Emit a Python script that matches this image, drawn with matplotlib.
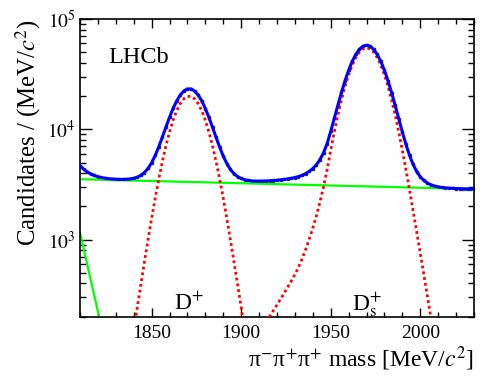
import numpy as np
import matplotlib
matplotlib.use("Agg")
import matplotlib.pyplot as plt
from matplotlib.ticker import MultipleLocator, LogLocator, NullFormatter, FixedLocator, FixedFormatter

plt.rcParams['font.family'] = ['Liberation Serif', 'DejaVu Serif']
plt.rcParams['mathtext.fontset'] = 'stix'

# fit grid (MeV/c^2), total fit / data values
mass = np.arange(1810, 2031, 2)
total = [4687, 4358, 4118, 3944, 3817, 3724, 3655, 3604, 3569, 3542,
         3524, 3513, 3511, 3521, 3549, 3597, 3683, 3824, 4053, 4413,
         4972, 5788, 6946, 8506, 10490, 12854, 15465, 18099, 20469, 22267,
         23237, 23233, 22254, 20446, 18067, 15424, 12805, 10432, 8441, 6873,
         5709, 4886, 4327, 3961, 3727, 3581, 3490, 3437, 3406, 3392,
         3389, 3394, 3403, 3417, 3434, 3456, 3483, 3515, 3553, 3597,
         3653, 3725, 3825, 3963, 4155, 4411, 4771, 5311, 6135, 7428,
         9570, 12560, 16544, 21586, 27604, 34320, 41254, 47756, 53102, 56624,
         57850, 56612, 53078, 47720, 41206, 34260, 27532, 21502, 16448, 12452,
         9450, 7296, 5805, 4802, 4143, 3713, 3435, 3254, 3135, 3057,
         3005, 2968, 2945, 2928, 2915, 2905, 2897, 2890, 2883, 2877,
         2870]

# D+ signal component
dplus_mass = np.arange(1836, 1907, 2)
dplus_sig = [53, 91, 149, 243, 392, 628, 995, 1554, 2376, 3539,
             5105, 7094, 9464, 12080, 14720, 17095, 18899, 19874, 19874, 18899,
             17095, 14720, 12080, 9464, 7094, 5105, 3539, 2376, 1554, 995,
             628, 392, 243, 149, 91, 53]

# Ds+ signal component
ds_mass = np.arange(1914, 2011, 2)
ds_sig = [179, 202, 228, 256, 289, 327, 371, 421, 483, 561,
          667, 811, 1009, 1271, 1637, 2183, 3013, 4312, 6460, 9456,
          13446, 18494, 24518, 31240, 38180, 44688, 50040, 53568, 54800, 53568,
          50040, 44688, 38180, 31240, 24518, 18494, 13446, 9456, 6460, 4312,
          2827, 1830, 1177, 753, 481, 306, 193, 121, 75]

# combinatorial background (straight line)
comb_mass = [1810, 2030]
comb_bkg = [3530, 2870]

# steep background at low mass
low_mass = [1810, 1812, 1814, 1816, 1818, 1820, 1822, 1824]
low_bkg = [1157, 834, 600, 432, 311, 224, 161, 116]

fig = plt.figure(figsize=(4.98, 3.78), dpi=100)
ax = fig.add_axes([0.1606, 0.1622, 0.7912, 0.7875])

ax.plot(comb_mass, comb_bkg, color='#00ff00', lw=1.6, zorder=2)
ax.plot(low_mass, low_bkg, color='#00ff00', lw=1.6, zorder=2)
ax.plot(dplus_mass, dplus_sig, color='#ff0000', lw=2.0, ls=(0, (1, 1.1)), zorder=3)
ax.plot(ds_mass, ds_sig, color='#ff0000', lw=2.0, ls=(0, (1, 1.1)), zorder=3)
ax.errorbar(mass, total, yerr=np.sqrt(total), fmt='s', ms=1.5, color='#333333',
            elinewidth=0.8, capsize=0, zorder=1)
ax.plot(mass, total, color='#0000ff', lw=2.2, zorder=4)

ax.set_yscale('log')
ax.set_xlim(1810, 2030)
ax.set_ylim(200, 1e5)

ax.xaxis.set_major_locator(MultipleLocator(50))
ax.xaxis.set_minor_locator(MultipleLocator(10))
ax.yaxis.set_major_locator(FixedLocator([1e3, 1e4, 1e5]))
ax.yaxis.set_major_formatter(FixedFormatter([r'$10^3$', r'$10^4$', r'$10^5$']))
ax.yaxis.set_minor_locator(LogLocator(base=10, subs=np.arange(2, 10)))
ax.yaxis.set_minor_formatter(NullFormatter())

ax.tick_params(which='both', direction='in', top=True, right=True, labelsize=14)
ax.tick_params(axis='x', which='major', length=6.5, width=1.0, pad=6)
ax.tick_params(axis='x', which='minor', length=3.3, width=1.0)
ax.tick_params(axis='y', which='major', length=8.5, width=1.0, pad=3)
ax.tick_params(axis='y', which='minor', length=4.3, width=1.0)
for sp in ax.spines.values():
    sp.set_linewidth(1.2)

ax.set_xlabel(r'π$^{-}$π$^{+}$π$^{+}$ mass [MeV/$c^{2}$]', fontsize=17, loc='right', labelpad=2)
ax.set_ylabel(r'Candidates / (MeV/$c^{2}$)', fontsize=17.8, loc='top', labelpad=3)

ax.text(0.071, 0.852, 'LHCb', transform=ax.transAxes, fontsize=17.5)
ax.text(1871, 230, r'D$^{+}$', fontsize=17, ha='center', va='baseline')
ax.text(1970, 230, r'D$_{\rm s}^{+}$', fontsize=17, ha='center', va='baseline')

fig.savefig('out.png', dpi=100)
